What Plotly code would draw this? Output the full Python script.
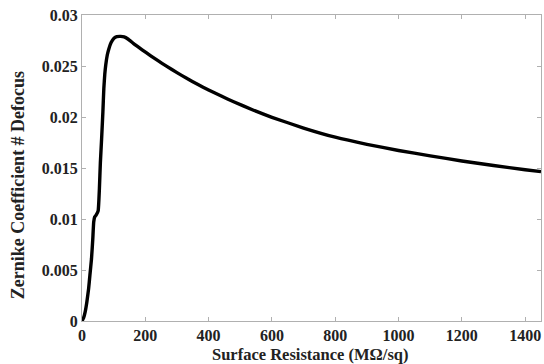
import plotly.graph_objects as go

resistance = [0, 5, 10, 15, 21, 25, 30, 34, 37, 40, 45, 51, 55, 58, 62, 66, 69, 72, 75, 80, 85,
              92, 101, 110, 122, 133, 145, 163, 190, 216, 240, 268, 300, 332, 365, 400, 440,
              479, 540, 600, 700, 800, 900, 1000, 1100, 1200, 1300, 1400, 1450]
defocus = [0, 0.0003, 0.0009, 0.0018, 0.0032, 0.0045, 0.0061, 0.0080, 0.0097, 0.0102, 0.0104,
           0.0108, 0.0130, 0.0155, 0.0179, 0.0205, 0.0228, 0.0242, 0.0251, 0.0261, 0.0267,
           0.0273, 0.02772, 0.02787, 0.0279, 0.02785, 0.02765, 0.0272, 0.02659, 0.02602,
           0.02552, 0.02496, 0.02435, 0.02377, 0.02321, 0.02265, 0.02205, 0.0215, 0.02069,
           0.01997, 0.01892, 0.01802, 0.01732, 0.01672, 0.01619, 0.01569, 0.01524, 0.01483,
           0.01464]

x_ticks = [0, 200, 400, 600, 800, 1000, 1200, 1400]
y_ticks = [0, 0.005, 0.01, 0.015, 0.02, 0.025, 0.03]
y_labels = ["0", "0.005", "0.01", "0.015", "0.02", "0.025", "0.03"]

FAMILY = "Liberation Serif, Times New Roman, serif"
TEXT = "#222222"

fig = go.Figure(go.Scatter(x=resistance, y=defocus, mode="lines",
                           line=dict(color="black", width=3.4, shape="spline", smoothing=0.4)))

axis_common = dict(showgrid=False, zeroline=False, showline=True, linecolor="#b0b0b0",
                   linewidth=1, mirror="ticks", ticks="inside", ticklen=4, tickcolor="#b0b0b0",
                   automargin=False, ticklabeloverflow="allow",
                   tickfont=dict(family=FAMILY, size=16, color=TEXT, weight="bold"))

fig.update_layout(
    width=544, height=364,
    margin=dict(l=82, r=3, t=15, b=43),
    paper_bgcolor="white", plot_bgcolor="white",
    showlegend=False,
    xaxis=dict(range=[0, 1450], tickvals=x_ticks, **axis_common),
    yaxis=dict(range=[0, 0.03], tickvals=y_ticks, ticktext=y_labels, **axis_common),
    annotations=[
        dict(text="<b>Surface Resistance (MΩ/sq)</b>", xref="paper", yref="paper",
             x=0.497, y=-0.11, xanchor="center", yanchor="middle", showarrow=False,
             font=dict(family=FAMILY, size=16.5, color=TEXT)),
        dict(text="<b>Zernike Coefficient # Defocus</b>", xref="paper", yref="paper",
             x=-0.139, y=0.444, xanchor="center", yanchor="middle", showarrow=False,
             textangle=-90, font=dict(family=FAMILY, size=18, color=TEXT)),
    ],
)

fig.write_html("out.html", config={"displayModeBar": False},
               post_script="document.body.style.margin='0';document.body.style.overflow='hidden';")
